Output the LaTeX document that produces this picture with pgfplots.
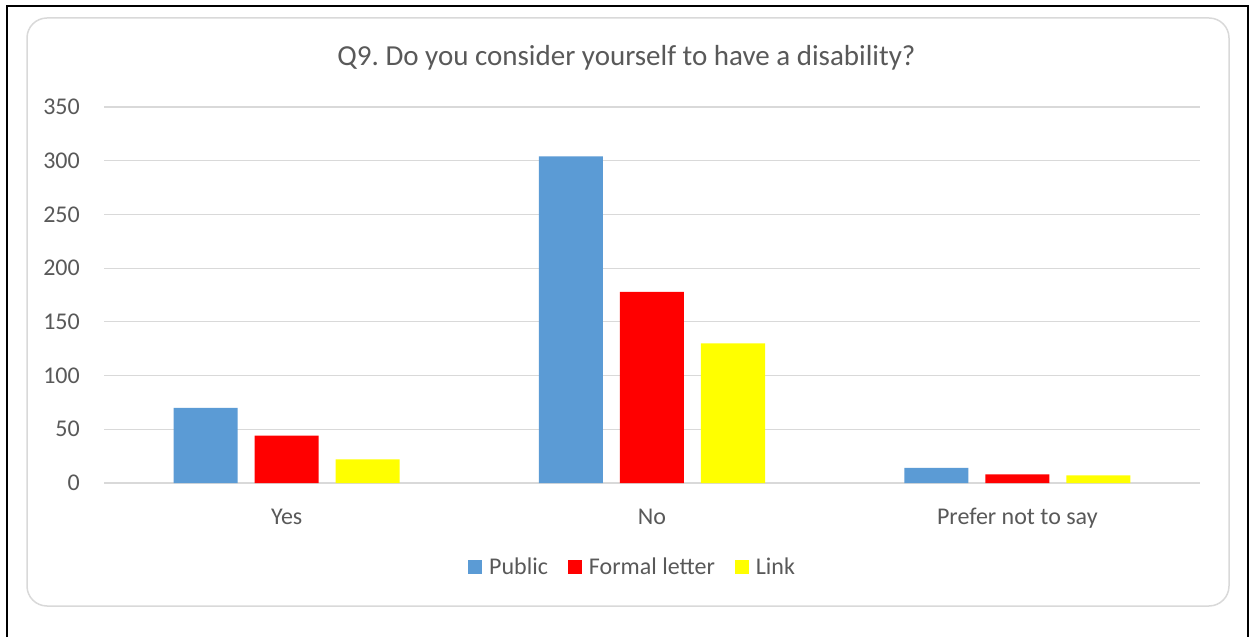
\documentclass[border=0pt]{standalone}
\usepackage{pgfplots}
\pgfplotsset{compat=1.18}
\usepackage{fontspec}
\setmainfont{Carlito}
\definecolor{pub}{HTML}{5B9BD5}
\definecolor{formal}{HTML}{FF0000}
\definecolor{link}{HTML}{FFFF00}
\definecolor{gridc}{HTML}{D9D9D9}
\definecolor{txt}{HTML}{595959}
\begin{document}
\frenchspacing
\begin{tikzpicture}[x=1pt,y=1pt]
\useasboundingbox (0,0) rectangle (1249,637);
% outer black frame
\draw[black, line width=2pt] (6.5,0) -- (6.5,631) -- (1248,631) -- (1248,0);
% chart area
\draw[gridc, line width=1.5pt, rounded corners=20pt, fill=white] (27,31) rectangle (1229,619);
% title
\node[anchor=base, text=txt, font=\fontsize{29}{34}\selectfont, inner sep=0pt] at (626.5,571) {Q9. Do you consider yourself to have a disability?};
\begin{axis}[
  at={(104pt,154pt)}, anchor=south west,
  scale only axis, width=1096pt, height=376pt,
  xmin=-0.5, xmax=2.5, ymin=0, ymax=350,
  ybar=17pt, bar width=64pt,
  xtick={0,1,2}, xticklabels={Yes,No,Prefer not to say},
  ytick={0,50,...,350},
  ymajorgrids, grid style={gridc, line width=1.2pt},
  axis line style={draw=none},
  major tick length=0pt,
  tick style={draw=none},
  /pgf/number format/assume math mode=true,
  ticklabel style={text=txt, font=\fontsize{24}{28}\selectfont},
  yticklabel style={anchor=east, inner sep=0pt, xshift=-24pt},
  xticklabel style={anchor=north, inner sep=0pt, text height=15.5pt, text depth=5pt, yshift=-25.5pt},
  legend style={at={(0.4823,-0.2234)}, anchor=center, draw=none, fill=none,
    legend columns=-1, font=\fontsize{24}{28}\selectfont, text=txt,
    /tikz/every odd column/.append style={column sep=5pt},
    /tikz/every even column/.append style={column sep=18pt},
    inner sep=0pt},
  legend image code/.code={\fill[#1] (0pt,-7pt) rectangle (14pt,7pt);},
  legend cell align=left,
]
\addplot[fill=pub, draw=none] coordinates {(0,70) (1,304) (2,14)};
\addplot[fill=formal, draw=none] coordinates {(0,44) (1,178) (2,8)};
\addplot[fill=link, draw=none] coordinates {(0,22) (1,130) (2,7)};
\legend{Public,Formal letter,Link}
\end{axis}
\end{tikzpicture}
\end{document}
